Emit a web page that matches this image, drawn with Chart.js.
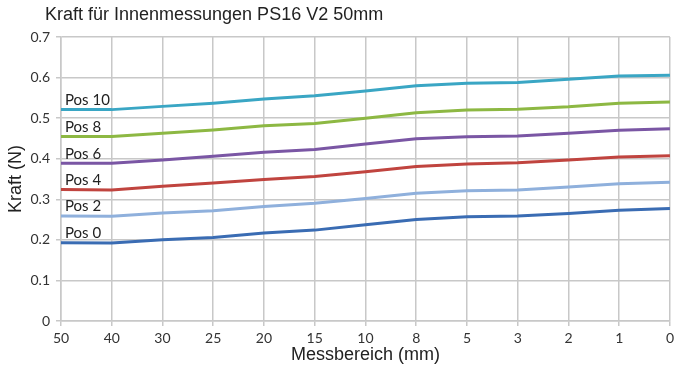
<!DOCTYPE html>
<html lang="de">
<head>
  <meta charset="UTF-8">
  <title>Kraft für Innenmessungen</title>
  <script src="https://cdn.jsdelivr.net/npm/chart.js"></script>
  <style>
    html, body { margin: 0; padding: 0; background: #fff; }
    #wrap { width: 678px; height: 371px; position: relative; }
  </style>
</head>
<body>
  <div id="wrap"><canvas id="kraftChart"></canvas></div>
  <script>
    // Messbereich in mm (x axis, reversed order as on the sheet)
    const categories = ["50", "40", "30", "25", "20", "15", "10", "8", "5", "3", "2", "1", "0"];

    // Kraft (N) per position
    const pos0  = [0.193, 0.192, 0.200, 0.206, 0.217, 0.224, 0.237, 0.250, 0.257, 0.259, 0.265, 0.273, 0.277];
    const pos2  = [0.259, 0.258, 0.266, 0.272, 0.282, 0.290, 0.302, 0.315, 0.321, 0.323, 0.330, 0.338, 0.342];
    const pos4  = [0.324, 0.323, 0.332, 0.340, 0.349, 0.356, 0.368, 0.381, 0.387, 0.390, 0.397, 0.404, 0.407];
    const pos6  = [0.389, 0.389, 0.397, 0.406, 0.416, 0.423, 0.436, 0.449, 0.454, 0.456, 0.463, 0.470, 0.474];
    const pos8  = [0.455, 0.455, 0.463, 0.471, 0.481, 0.487, 0.500, 0.513, 0.520, 0.522, 0.528, 0.537, 0.540];
    const pos10 = [0.521, 0.521, 0.529, 0.537, 0.547, 0.555, 0.567, 0.580, 0.586, 0.588, 0.596, 0.604, 0.606];

    const seriesNames = ["Pos 0", "Pos 2", "Pos 4", "Pos 6", "Pos 8", "Pos 10"];
    const seriesData = [pos0, pos2, pos4, pos6, pos8, pos10];
    const seriesColors = ["#3a6cb3", "#8fb0dc", "#c0443f", "#7a56a4", "#8db843", "#3aa6c4"];

    const titleText = "Kraft für Innenmessungen PS16 V2 50mm";
    const tickFont = "Lato";
    const textFont = "'Liberation Sans', Arial, sans-serif";

    // chart title, drawn top-left like the Excel sheet
    const titlePlugin = {
      id: "sheetTitle",
      afterDraw(chart) {
        const ctx = chart.ctx;
        ctx.save();
        ctx.font = "18px " + textFont;
        ctx.fillStyle = "#222";
        ctx.textBaseline = "middle";
        ctx.textAlign = "left";
        ctx.fillText(titleText, 45, 15);
        ctx.restore();
      }
    };

    // "Pos x" labels sitting just above the first point of each line
    const lineLabels = {
      id: "lineLabels",
      afterDatasetsDraw(chart) {
        const ctx = chart.ctx;
        ctx.save();
        ctx.font = "15px " + tickFont;
        ctx.fillStyle = "#222";
        ctx.textAlign = "left";
        ctx.textBaseline = "bottom";
        chart.data.datasets.forEach((ds, i) => {
          const pt = chart.getDatasetMeta(i).data[0];
          ctx.fillText(ds.label, pt.x + 4, pt.y - 2);
        });
        ctx.restore();
      }
    };

    new Chart(document.getElementById("kraftChart"), {
      type: "line",
      data: {
        labels: categories,
        datasets: seriesNames.map((name, i) => ({
          label: name,
          data: seriesData[i],
          borderColor: seriesColors[i],
          backgroundColor: seriesColors[i],
          borderWidth: 3,
          pointRadius: 0,
          tension: 0,
          fill: false
        }))
      },
      options: {
        responsive: true,
        maintainAspectRatio: false,
        animation: false,
        layout: { padding: { top: 37, right: 6, left: 0, bottom: 0 } },
        plugins: {
          legend: { display: false },
          tooltip: { enabled: false }
        },
        scales: {
          x: {
            offset: false,
            afterFit(scale) { scale.height = 50; },
            grid: { color: "#c8c8c8", lineWidth: 1.5, tickLength: 5 },
            border: { color: "#c8c8c8", width: 1.5 },
            ticks: { color: "#333", font: { family: tickFont, size: 14 }, padding: 4, maxRotation: 0, autoSkip: false },
            title: {
              display: true,
              text: "Messbereich (mm)",
              color: "#222",
              font: { family: textFont, size: 18 },
              padding: { top: 5, bottom: 5 }
            }
          },
          y: {
            min: 0,
            max: 0.7,
            afterFit(scale) { scale.width = 61; },
            grid: { color: "#c8c8c8", lineWidth: 1.5, tickLength: 5 },
            border: { color: "#c8c8c8", width: 1.5 },
            ticks: { stepSize: 0.1, color: "#333", font: { family: tickFont, size: 14 }, padding: 6 },
            title: {
              display: true,
              text: "Kraft (N)",
              color: "#222",
              font: { family: textFont, size: 18 },
              padding: { top: 5, bottom: 5 }
            }
          }
        }
      },
      plugins: [titlePlugin, lineLabels]
    });
  </script>
</body>
</html>
